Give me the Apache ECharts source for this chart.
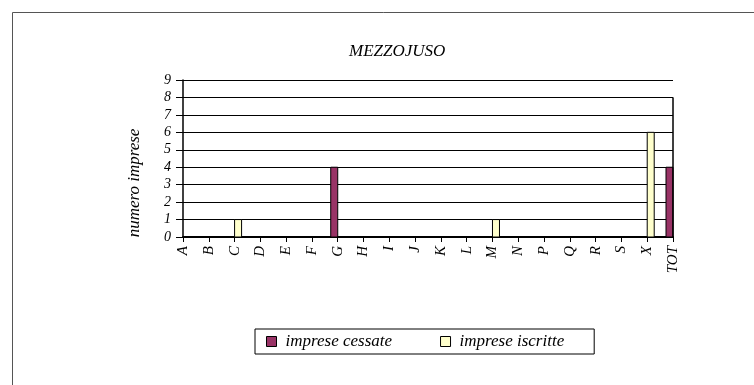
<!DOCTYPE html>
<html>
<head>
<meta charset="utf-8">
<script src="https://cdn.jsdelivr.net/npm/echarts@6/dist/echarts.min.js"></script>
<style>
html,body{margin:0;padding:0;background:#fff;}
#chart{width:754px;height:385px;}
</style>
</head>
<body>
<div id="chart"></div>
<script>
var categories = ['A','B','C','D','E','F','G','H','I','J','K','L','M','N','P','Q','R','S','X','TOT'];
var cessate  = [0,0,0,0,0,0,4,0,0,0,0,0,0,0,0,0,0,0,0,4];
var iscritte = [0,0,1,0,0,0,0,0,0,0,0,0,1,0,0,0,0,0,6,8];
var yTicks = [0,1,2,3,4,5,6,7,8,9];
var titleText = 'MEZZOJUSO';
var yName = 'numero imprese';
var seriesNames = ['imprese cessate','imprese iscritte'];
var seriesColors = ['#993366','#FFFFCC'];

var font = '"Liberation Serif","Times New Roman",serif';

function toPairs(arr){ return arr.map(function(v,i){ return [i, v]; }); }

function makeRender(side, color){
  var w = 7;
  return function(params, api){
    var i = api.value(0), v = api.value(1);
    var base = api.coord([i, 0]);
    var top = api.coord([i, v]);
    var x = side < 0 ? base[0] - w : base[0];
    var cs = params.coordSys;
    var rect = echarts.graphic.clipRectByRect(
      {x:x, y:top[1], width:w, height:base[1]-top[1]},
      {x:cs.x, y:cs.y, width:cs.width, height:cs.height});
    if (!rect) return null;
    return {type:'rect', shape:rect, style:{fill:color, stroke:'#000', lineWidth:1}};
  };
}

var chart = echarts.init(document.getElementById('chart'), null, {renderer:'canvas'});
chart.setOption({
  animation:false,
  backgroundColor:'#fff',
  title:{text:titleText,left:344,top:38,
    textStyle:{fontFamily:font,fontStyle:'italic',fontWeight:'normal',fontSize:17,color:'#000'}},
  graphic:[
    {type:'rect',shape:{x:12.5,y:12.5,width:800,height:400},style:{fill:'none',stroke:'#555',lineWidth:1},z:-1},
    {type:'text',x:135,y:183,rotation:Math.PI/2,
      style:{text:yName,fill:'#000',font:'italic 17px '+font,textAlign:'center',textVerticalAlign:'middle'}}
  ],
  legend:{
    left:255,top:329,
    padding:[4,30,4,11],
    borderColor:'#000',borderWidth:1,
    itemWidth:10,itemHeight:10,itemGap:48,
    icon:'rect',
    itemStyle:{borderColor:'#000',borderWidth:1},
    textStyle:{fontFamily:font,fontStyle:'italic',fontSize:17,color:'#000',padding:[0,0,0,4]},
    data:seriesNames
  },
  grid:{left:183,right:81,top:80,bottom:148,containLabel:false},
  xAxis:{
    type:'category',data:categories,boundaryGap:false,
    axisLine:{lineStyle:{color:'#000',width:2}},
    axisTick:{show:true,length:5,lineStyle:{color:'#000',width:1}},
    axisLabel:{rotate:90,margin:9,fontFamily:font,fontStyle:'italic',fontSize:15,color:'#000',interval:0},
    splitLine:{show:false}
  },
  yAxis:{
    type:'value',min:0,max:9,interval:1,
    axisLine:{show:true,lineStyle:{color:'#000',width:1.5}},
    axisTick:{show:true,length:7,lineStyle:{color:'#000'}},
    axisLabel:{fontFamily:font,fontStyle:'italic',fontSize:14,color:'#000',margin:12,
      formatter:function(v){return yTicks.indexOf(v)>=0?String(v):'';}},
    splitLine:{show:true,lineStyle:{color:'#000',width:1}}
  },
  series:[
    {name:seriesNames[0],type:'custom',data:toPairs(cessate),encode:{x:0,y:1},
      renderItem:makeRender(-1, seriesColors[0]),
      itemStyle:{color:seriesColors[0],borderColor:'#000',borderWidth:1}},
    {name:seriesNames[1],type:'custom',data:toPairs(iscritte),encode:{x:0,y:1},
      renderItem:makeRender(1, seriesColors[1]),
      itemStyle:{color:seriesColors[1],borderColor:'#000',borderWidth:1}}
  ]
});
</script>
</body>
</html>
